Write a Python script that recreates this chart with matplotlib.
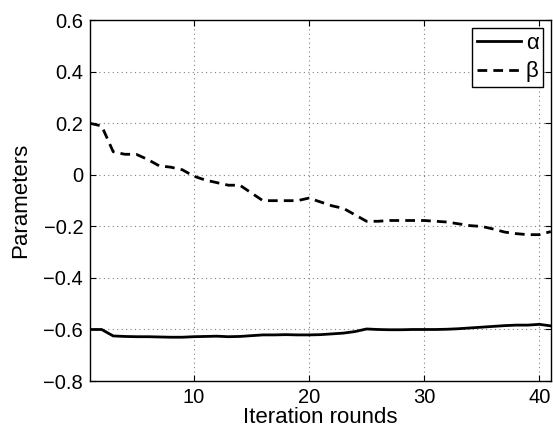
import numpy as np
import matplotlib
matplotlib.use("Agg")
import matplotlib.pyplot as plt

rounds = np.arange(1, 42)

alpha = [-0.600, -0.600, -0.625, -0.627, -0.628, -0.628, -0.629, -0.630, -0.630, -0.628,
         -0.627, -0.626, -0.628, -0.627, -0.624, -0.621, -0.621, -0.620, -0.621, -0.621,
         -0.620, -0.617, -0.614, -0.608, -0.598, -0.600, -0.601, -0.601, -0.600, -0.600,
         -0.600, -0.599, -0.597, -0.594, -0.591, -0.588, -0.585, -0.583, -0.583, -0.580,
         -0.586]

beta = [0.200, 0.190, 0.090, 0.080, 0.080, 0.060, 0.035, 0.030, 0.020, -0.005,
        -0.020, -0.030, -0.040, -0.040, -0.070, -0.100, -0.100, -0.100, -0.100, -0.090,
        -0.105, -0.120, -0.130, -0.155, -0.180, -0.180, -0.177, -0.177, -0.177, -0.177,
        -0.180, -0.183, -0.190, -0.197, -0.200, -0.210, -0.222, -0.228, -0.232, -0.232,
        -0.220]

plt.rcParams['font.family'] = ['Liberation Sans', 'DejaVu Sans']

fig = plt.figure(figsize=(5.53, 4.32), dpi=100)
ax = fig.add_axes([0.163, 0.118, 0.833, 0.835])

ax.plot(rounds, alpha, color='black', linewidth=2, linestyle='-', label='α')
ax.plot(rounds, beta, color='black', linewidth=2, linestyle=(0, (3.5, 2.2)), label='β')

ax.set_xlim(1, 41)
ax.set_ylim(-0.8, 0.6)
ax.set_xticks([10, 20, 30, 40])
ax.set_yticks(np.arange(-0.8, 0.61, 0.2))
ax.set_yticklabels(['\u22120.8', '\u22120.6', '\u22120.4', '\u22120.2', '0', '0.2', '0.4', '0.6'])
ax.tick_params(direction='in', top=True, right=True, length=4, labelsize=14.5, pad=5)
ax.grid(True, linestyle=(0, (1, 3)), color='#808080', linewidth=0.8)
for s in ax.spines.values():
    s.set_linewidth(1.0)

ax.set_xlabel('Iteration rounds', fontsize=16, labelpad=0)
ax.set_ylabel('Parameters', fontsize=16, labelpad=9)

leg = ax.legend(loc='upper right', fontsize=16, fancybox=False, framealpha=1,
                edgecolor='black', handlelength=2.0, borderaxespad=0.35,
                handletextpad=0.2, borderpad=0.2, labelspacing=0.35)
leg.get_frame().set_linewidth(1.0)

fig.savefig('out.png', dpi=100)
